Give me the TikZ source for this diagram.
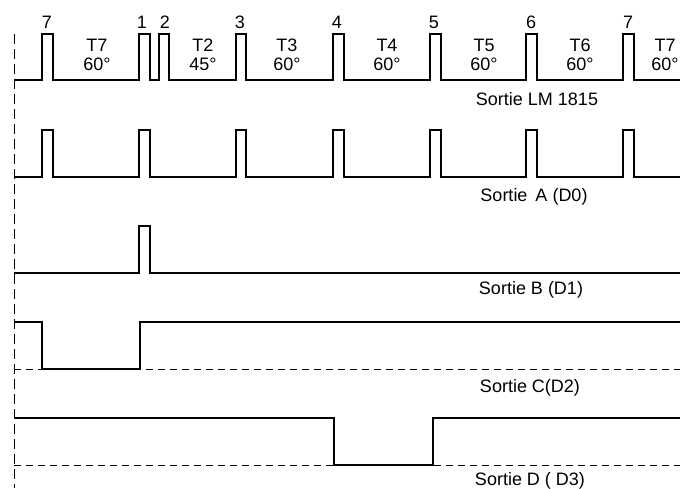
\documentclass[tikz,border=0pt]{standalone}
\usepackage{fontspec}
\setmainfont{Liberation Sans}
\begin{document}
\begin{tikzpicture}[x=1pt,y=-1pt,
  wave/.style={line width=1.8pt, line join=miter},
  guide/.style={line width=0.7pt, dash pattern=on 7pt off 5pt},
  vguide/.style={line width=0.7pt, dash pattern=on 10pt off 5pt},
  lbl/.style={font=\fontsize{18}{18.5}\selectfont, inner sep=0pt, align=center},
  num/.style={font=\fontsize{18}{15}\selectfont, inner sep=0pt}]
\useasboundingbox (0,0) rectangle (680,488);
% vertical guide
\draw[vguide] (14,34) -- (14,488);
% horizontal guides
\draw[guide] (14,369) -- (680,369);
\draw[guide] (14,465) -- (680,465);
% LM1815
\draw[wave] (14,80) -- (42,80) -- (42,34) -- (53,34) -- (53,80)
  -- (139,80) -- (139,34) -- (150,34) -- (150,80)
  -- (159,80) -- (159,34) -- (169,34) -- (169,80)
  -- (236,80) -- (236,34) -- (246,34) -- (246,80)
  -- (333,80) -- (333,34) -- (344,34) -- (344,80)
  -- (430,80) -- (430,34) -- (441,34) -- (441,80)
  -- (526,80) -- (526,34) -- (537,34) -- (537,80)
  -- (623,80) -- (623,34) -- (634,34) -- (634,80) -- (680,80);
% A
\draw[wave] (14,177) -- (42,177) -- (42,130) -- (53,130) -- (53,177)
  -- (139,177) -- (139,130) -- (150,130) -- (150,177)
  -- (236,177) -- (236,130) -- (246,130) -- (246,177)
  -- (333,177) -- (333,130) -- (344,130) -- (344,177)
  -- (430,177) -- (430,130) -- (441,130) -- (441,177)
  -- (526,177) -- (526,130) -- (537,130) -- (537,177)
  -- (623,177) -- (623,130) -- (634,130) -- (634,177) -- (680,177);
% B
\draw[wave] (14,273) -- (139,273) -- (139,226) -- (150,226) -- (150,273) -- (680,273);
% C
\draw[wave] (14,322) -- (42,322) -- (42,369) -- (140,369) -- (140,322) -- (680,322);
% D
\draw[wave] (14,418) -- (334,418) -- (334,465) -- (433,465) -- (433,418) -- (680,418);
% pulse numbers
\node[num] (n7a) at (47,22) {7};
\node[num] (n1) at (142,22) {1};
\node[num] (n2) at (165,22) {2};
\node[num] (n3) at (240,22) {3};
\node[num] (n4) at (337,22) {4};
\node[num] (n5) at (434,22) {5};
\node[num] (n6) at (531,22) {6};
\node[num] (n7b) at (628,22) {7};
% interval labels
\node[lbl] (t7a) at (97,55) {T7\\60°};
\node[lbl] (t2) at (203,55) {T2\\45°};
\node[lbl] (t3) at (287,55) {T3\\60°};
\node[lbl] (t4) at (387,55) {T4\\60°};
\node[lbl] (t5) at (484,55) {T5\\60°};
\node[lbl] (t6) at (580,55) {T6\\60°};
\node[lbl] (t7b) at (665,55) {T7\\60°};
% output labels
\node[num] (sLM) at (537,99) {Sortie LM 1815};
\node[num] (sA) at (534,197) {Sortie\,\ A (D0)};
\node[num] (sB) at (531,290) {Sortie B (D1)};
\node[num] (sC) at (530,388) {Sortie C(D2)};
\node[num] (sD) at (530,481) {Sortie D ( D3)};
\end{tikzpicture}
\end{document}
